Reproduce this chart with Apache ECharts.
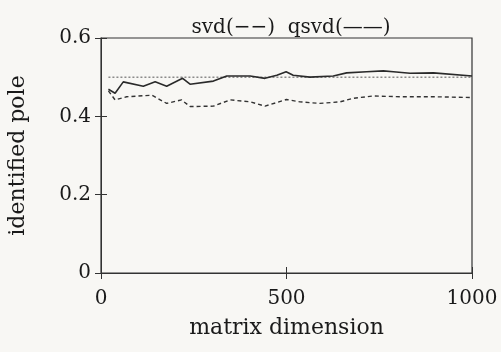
<!DOCTYPE html>
<html>
<head>
<meta charset="utf-8">
<style>
html, body { margin: 0; padding: 0; background: #f8f7f4; }
#main { width: 501px; height: 352px; }
</style>
<script src="https://cdn.jsdelivr.net/npm/echarts@6/dist/echarts.min.js"></script>
</head>
<body>
<div id="main"></div>
<script>
// matrix dimension vs identified pole
var qsvdX = [20, 38, 60, 114, 146, 177, 220, 240, 303, 339, 402, 442, 474, 499, 518, 563, 626, 662, 716, 761, 788, 833, 896, 1000];
var qsvdY = [0.469, 0.459, 0.488, 0.477, 0.488, 0.477, 0.497, 0.482, 0.490, 0.503, 0.503, 0.497, 0.505, 0.514, 0.505, 0.500, 0.503, 0.511, 0.514, 0.516, 0.514, 0.510, 0.511, 0.503];
var svdX = [20, 38, 69, 137, 177, 217, 240, 303, 348, 402, 442, 500, 536, 590, 644, 680, 734, 806, 896, 1000];
var svdY = [0.465, 0.442, 0.450, 0.454, 0.433, 0.442, 0.425, 0.426, 0.442, 0.437, 0.426, 0.443, 0.437, 0.433, 0.437, 0.446, 0.452, 0.450, 0.450, 0.448];
var refX = [20, 1000];
var refY = [0.5, 0.5];

function pairs(xs, ys) {
  var out = [];
  for (var i = 0; i < xs.length; i++) out.push([xs[i], ys[i]]);
  return out;
}

var serif = 'DejaVu Serif';
var ink = '#333';
var txt = '#1a1a1a';

var option = {
  backgroundColor: '#f8f7f4',
  animation: false,
  title: {
    text: 'svd(\u2212\u2212)  qsvd(\u2014\u2014)',
    left: 286,
    textAlign: 'center',
    top: 13,
    textStyle: { fontFamily: serif, fontSize: 20, fontWeight: 'normal', color: txt }
  },
  grid: {
    left: 101, right: 29, top: 38, bottom: 79,
    containLabel: false, outerBoundsMode: 'none',
    show: true, borderColor: ink, borderWidth: 1.2, backgroundColor: 'transparent'
  },
  xAxis: [{
    type: 'value', min: 0, max: 1000, interval: 500,
    name: 'matrix dimension', nameLocation: 'middle', nameGap: 44,
    nameTextStyle: { fontFamily: serif, fontSize: 22, color: txt },
    axisLine: { lineStyle: { color: ink } },
    axisTick: { inside: true, length: 6, lineStyle: { color: ink } },
    axisLabel: { fontFamily: serif, fontSize: 20, color: txt, margin: 16,
      formatter: function (v) { return String(v); } },
    splitLine: { show: false }
  }, {
    type: 'value', min: 0, max: 1000, interval: 500, position: 'top',
    axisLine: { show: false },
    axisTick: { inside: true, length: 6, lineStyle: { color: ink } },
    axisLabel: { show: false },
    splitLine: { show: false }
  }],
  yAxis: [{
    type: 'value', min: 0, max: 0.6, interval: 0.2,
    name: 'identified pole', nameLocation: 'middle', nameGap: 72,
    nameTextStyle: { fontFamily: serif, fontSize: 22, color: txt },
    axisLine: { lineStyle: { color: ink } },
    axisTick: { inside: true, length: 6, lineStyle: { color: ink } },
    axisLabel: { fontFamily: serif, fontSize: 20, color: txt, margin: 10,
      formatter: function (v) { return v === 0 ? '0' : v.toFixed(1); } },
    splitLine: { show: false }
  }, {
    type: 'value', min: 0, max: 0.6, interval: 0.2, position: 'right',
    axisLine: { show: false },
    axisTick: { inside: true, length: 6, lineStyle: { color: ink } },
    axisLabel: { show: false },
    splitLine: { show: false }
  }],
  series: [{
    name: 'ref', type: 'line', showSymbol: false,
    data: pairs(refX, refY),
    lineStyle: { color: '#555', width: 1, type: [2, 2] }
  }, {
    name: 'qsvd', type: 'line', showSymbol: false,
    data: pairs(qsvdX, qsvdY),
    lineStyle: { color: '#2a2a2a', width: 1.6 }
  }, {
    name: 'svd', type: 'line', showSymbol: false,
    data: pairs(svdX, svdY),
    lineStyle: { color: '#333', width: 1.4, type: [4, 3] }
  }]
};

var myChart = echarts.init(document.getElementById('main'));
myChart.setOption(option);
</script>
</body>
</html>
